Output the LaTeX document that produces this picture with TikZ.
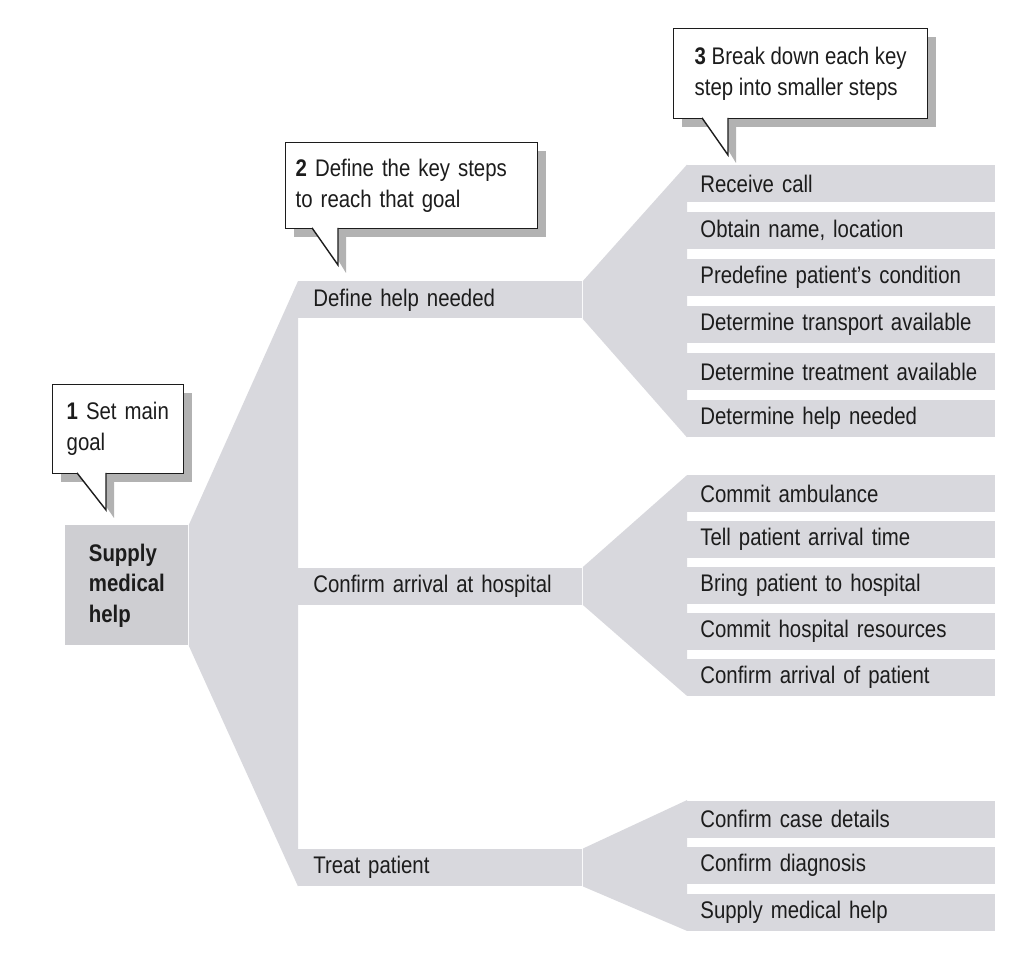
\documentclass[tikz,border=0pt]{standalone}
\usepackage{fontspec}
\setmainfont{Liberation Sans}[FakeStretch=0.85]
\usetikzlibrary{calc,shadows}
\definecolor{StepGray}{RGB}{216,216,221}
\definecolor{GoalGray}{RGB}{206,206,210}
\definecolor{ShadowGray}{RGB}{178,178,178}
\definecolor{InkBlack}{RGB}{28,28,28}

\begin{document}
\begin{tikzpicture}[x=0.5pt, y=-0.5pt, font=\fontsize{12}{15.5}\selectfont, every node/.style={align=left, text=InkBlack, inner ysep=0pt}]
\tikzset{
  goalbox/.style={fill=GoalGray, anchor=north west, minimum width=61.5pt, minimum height=60pt, font=\bfseries\fontsize{12}{15.25}\selectfont},
  keystep/.style={fill=StepGray, anchor=west, minimum height=18.5pt, inner xsep=7.5pt, text width=127pt},
  substep/.style={fill=StepGray, anchor=west, minimum height=18.5pt, inner xsep=6.5pt, text width=141pt},
  fan/.style={fill=StepGray},
  callout/.style={draw=InkBlack, line width=0.7pt, fill=white, anchor=north west, drop shadow={shadow xshift=4pt, shadow yshift=-4pt, fill=ShadowGray, opacity=1}},
  tailshade/.style={fill=ShadowGray},
  tail/.style={draw=InkBlack, line width=0.7pt, fill=white}
}
  \useasboundingbox (0,0) rectangle (1025,963);

  % main goal and key steps
  \node[goalbox] (goal) at (65,525) {Supply\\medical\\help};
  \node[keystep] (define) at (298,300) {Define help needed};
  \node[keystep] (confirm) at (298,586) {Confirm arrival at hospital};
  \node[keystep] (treat) at (298,867.5) {Treat patient};
  \fill[fan] (goal.north east) -- (define.north west) -- (define.south west)
    -- (confirm.north west) -- (confirm.south west)
    -- (treat.north west) -- (treat.south west) -- (goal.south east) -- cycle;

  % smaller steps
  \foreach \txt [count=\i] in {Receive call, {Obtain name, location}, Predefine patient's condition,
      Determine transport available, Determine treatment available, Determine help needed}
    \node[substep] (d\i) at (687,{183.5+47*(\i-1)}) {\txt};
  \fill[fan] (define.north east) -- (d1.north west) -- (d6.south west) -- (define.south east) -- cycle;

  \foreach \txt [count=\i] in {Commit ambulance, Tell patient arrival time, Bring patient to hospital,
      Commit hospital resources, Confirm arrival of patient}
    \node[substep] (a\i) at (687,{494+45.75*(\i-1)}) {\txt};
  \fill[fan] (confirm.north east) -- (a1.north west) -- (a5.south west) -- (confirm.south east) -- cycle;

  \foreach \txt [count=\i] in {Confirm case details, Confirm diagnosis, Supply medical help}
    \node[substep] (t\i) at (687,{819+46.5*(\i-1)}) {\txt};
  \fill[fan] (treat.north east) -- (t1.north west) -- (t3.south west) -- (treat.south east) -- cycle;

  % callouts
  \node[callout, minimum height=44.5pt, inner xsep=7pt, text width=51.5pt] (note1) at (52,384) {\textbf{1} Set main\\goal};
  \coordinate (tip1) at (106,510);
  \fill[tailshade] ($(note1.south west)+(33,1)$) -- ($(tip1)+(8,8)$) -- ($(tip1 |- note1.south)+(8,1)$) -- cycle;
  \filldraw[tail] ($(note1.south west)+(25,-1.5)$) -- (tip1) -- ($(tip1 |- note1.south)+(0,-1.5)$);

  \node[callout, minimum height=43pt, inner xsep=5pt, text width=116pt] (note2) at (285,142) {\textbf{2} Define the key steps\\to reach that goal};
  \coordinate (tip2) at (338,265);
  \fill[tailshade] ($(note2.south west)+(35,1)$) -- ($(tip2)+(8,8)$) -- ($(tip2 |- note2.south)+(8,1)$) -- cycle;
  \filldraw[tail] ($(note2.south west)+(27,-1.5)$) -- (tip2) -- ($(tip2 |- note2.south)+(0,-1.5)$);

  \node[callout, minimum width=127pt, minimum height=45pt] (note3) at (673,28) {\textbf{3} Break down each key\\step into smaller steps};
  \coordinate (tip3) at (728,155);
  \fill[tailshade] ($(note3.south west)+(37,1)$) -- ($(tip3)+(8,8)$) -- ($(tip3 |- note3.south)+(8,1)$) -- cycle;
  \filldraw[tail] ($(note3.south west)+(29,-1.5)$) -- (tip3) -- ($(tip3 |- note3.south)+(0,-1.5)$);
\end{tikzpicture}
\end{document}
